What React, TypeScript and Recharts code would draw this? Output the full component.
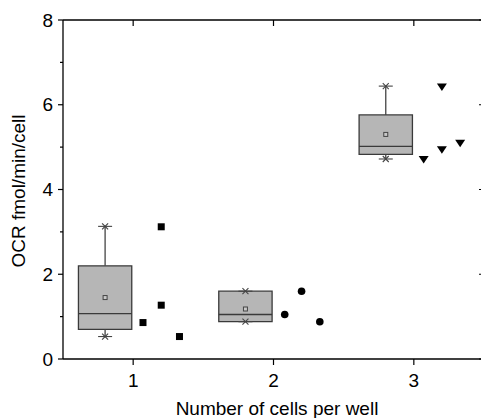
import { ScatterChart, Scatter, XAxis, YAxis, ReferenceArea, ReferenceLine } from 'recharts';

// box statistics, one entry per group
const groups = [1, 2, 3];
const boxCenters = [0.8, 1.8, 2.8];
const q1 = [0.7, 0.88, 4.83];
const medians = [1.07, 1.05, 5.02];
const q3 = [2.2, 1.6, 5.76];
const means = [1.45, 1.18, 5.3];
const mins = [0.53, 0.88, 4.72];
const maxs = [3.13, 1.6, 6.44];

// raw points plotted beside each box
const group1X = [1.07, 1.2, 1.2, 1.33];
const group1Y = [0.86, 3.12, 1.27, 0.53];
const group2X = [2.08, 2.2, 2.33];
const group2Y = [1.05, 1.6, 0.88];
const group3X = [3.07, 3.2, 3.2, 3.33];
const group3Y = [4.71, 6.42, 4.94, 5.09];

const X_DOMAIN: [number, number] = [0.5, 3.5];
const Y_DOMAIN: [number, number] = [0, 8];
const yTicks = [0, 1, 2, 3, 4, 5, 6, 7, 8];
const yMajor = [0, 2, 4, 6, 8];

const BOX_HALF = 0.19;
const FONT = '"Liberation Sans", Arial, sans-serif';

const toPoints = (xs: number[], ys: number[]) => xs.map((x, i) => ({ x, y: ys[i] }));

const meanData = toPoints(boxCenters, means);
const extremeData = [...toPoints(boxCenters, mins), ...toPoints(boxCenters, maxs)];
const frameAnchor = [{ x: X_DOMAIN[0], y: Y_DOMAIN[0] }, { x: X_DOMAIN[1], y: Y_DOMAIN[1] }];

const LeftTick = (props: any) => {
  const { x, y, payload } = props;
  const major = payload.value % 2 === 0;
  return (
    <g>
      <line x1={x - (major ? 5 : 3)} x2={x} y1={y} y2={y} stroke="#000" strokeWidth={1.2} />
      {major && (
        <text x={x - 10} y={y} textAnchor="end" dominantBaseline="central" fontSize={19} fontFamily={FONT} fill="#000">
          {payload.value}
        </text>
      )}
    </g>
  );
};

const BottomTick = (props: any) => {
  const { x, y, payload } = props;
  return (
    <g>
      <line x1={x} x2={x} y1={y} y2={y + 6} stroke="#000" strokeWidth={1.2} />
      <text x={x} y={y + 28} textAnchor="middle" fontSize={19} fontFamily={FONT} fill="#000">
        {payload.value}
      </text>
    </g>
  );
};

// inward ticks on the top and right frame axes
const TopTick = (props: any) => {
  const { x, y } = props;
  return <line x1={x} x2={x} y1={y} y2={y + 6} stroke="#000" strokeWidth={1.2} />;
};

const RightTick = (props: any) => {
  const { x, y } = props;
  return <line x1={x - 5} x2={x} y1={y} y2={y} stroke="#000" strokeWidth={1.2} />;
};

const NoMark = () => <g />;

const SquareDot = (props: any) => {
  const { cx, cy } = props;
  return <rect x={cx - 3.5} y={cy - 3.5} width={7} height={7} fill="#000" />;
};

const CircleDot = (props: any) => {
  const { cx, cy } = props;
  return <circle cx={cx} cy={cy} r={3.8} fill="#000" />;
};

const TriangleDot = (props: any) => {
  const { cx, cy } = props;
  return <polygon points={`${cx - 5},${cy - 3.5} ${cx + 5},${cy - 3.5} ${cx},${cy + 4}`} fill="#000" />;
};

const MeanMark = (props: any) => {
  const { cx, cy } = props;
  return <rect x={cx - 2} y={cy - 2} width={4} height={4} fill="#c8c8c8" stroke="#444" strokeWidth={1} />;
};

// whisker cap with an "x" marker
const ExtremeMark = (props: any) => {
  const { cx, cy } = props;
  return (
    <g stroke="#444" strokeWidth={1.1}>
      <line x1={cx - 7} x2={cx + 7} y1={cy} y2={cy} />
      <line x1={cx - 3} x2={cx + 3} y1={cy - 3} y2={cy + 3} />
      <line x1={cx - 3} x2={cx + 3} y1={cy + 3} y2={cy - 3} />
    </g>
  );
};

export default function App() {
  return (
    <div style={{ position: 'absolute', left: 0, top: 0, width: 481, height: 418, overflow: 'hidden', background: '#fff' }}>
      <ScatterChart width={490} height={418} margin={{ top: 0, right: 0, bottom: 0, left: 0 }}>
        <XAxis
          dataKey="x"
          type="number"
          domain={X_DOMAIN}
          ticks={groups}
          height={59}
          tickSize={0}
          tickMargin={0}
          tickLine={false}
          tick={BottomTick}
          axisLine={{ stroke: '#000', strokeWidth: 1.3 }}
          label={() => (
            <text x={277} y={415} textAnchor="middle" fontSize={19} fontFamily={FONT} fill="#000">
              Number of cells per well
            </text>
          )}
        />
        <XAxis
          xAxisId="top"
          orientation="top"
          dataKey="x"
          type="number"
          domain={X_DOMAIN}
          ticks={groups}
          height={20}
          tickSize={0}
          tickMargin={0}
          tickLine={false}
          tick={TopTick}
          axisLine={{ stroke: '#000', strokeWidth: 1.3 }}
        />
        <YAxis
          dataKey="y"
          type="number"
          domain={Y_DOMAIN}
          ticks={yTicks}
          interval={0}
          width={63}
          tickSize={0}
          tickMargin={0}
          tickLine={false}
          tick={LeftTick}
          axisLine={{ stroke: '#000', strokeWidth: 1.3 }}
          label={() => (
            <text
              x={18}
              y={191}
              transform="rotate(-90, 18, 191)"
              textAnchor="middle"
              dominantBaseline="central"
              fontSize={19}
              fontFamily={FONT}
              fill="#000"
            >
              OCR fmol/min/cell
            </text>
          )}
        />
        <YAxis
          yAxisId="right"
          orientation="right"
          dataKey="y"
          type="number"
          domain={Y_DOMAIN}
          ticks={yMajor}
          interval={0}
          width={6}
          tickSize={0}
          tickMargin={0}
          tickLine={false}
          tick={RightTick}
          axisLine={{ stroke: '#000', strokeWidth: 1.3 }}
        />

        {boxCenters.map((c, i) => (
          <ReferenceLine
            key={`wu-${i}`}
            segment={[{ x: c, y: q3[i] }, { x: c, y: maxs[i] }]}
            stroke="#444"
            strokeWidth={1.3}
          />
        ))}
        {boxCenters.map((c, i) => (
          <ReferenceLine
            key={`wl-${i}`}
            segment={[{ x: c, y: mins[i] }, { x: c, y: q1[i] }]}
            stroke="#444"
            strokeWidth={1.3}
          />
        ))}
        {boxCenters.map((c, i) => (
          <ReferenceArea
            key={`box-${i}`}
            x1={c - BOX_HALF}
            x2={c + BOX_HALF}
            y1={q1[i]}
            y2={q3[i]}
            fill="#b6b6b6"
            fillOpacity={1}
            stroke="#3a3a3a"
            strokeWidth={1.3}
          />
        ))}
        {boxCenters.map((c, i) => (
          <ReferenceLine
            key={`med-${i}`}
            segment={[{ x: c - BOX_HALF, y: medians[i] }, { x: c + BOX_HALF, y: medians[i] }]}
            stroke="#3a3a3a"
            strokeWidth={1.3}
          />
        ))}

        {/* invisible series bound to the frame axes */}
        <Scatter xAxisId="top" yAxisId="right" data={frameAnchor} shape={NoMark} isAnimationActive={false} />

        <Scatter data={extremeData} shape={ExtremeMark} isAnimationActive={false} />
        <Scatter data={meanData} shape={MeanMark} isAnimationActive={false} />
        <Scatter data={toPoints(group1X, group1Y)} shape={SquareDot} isAnimationActive={false} />
        <Scatter data={toPoints(group2X, group2Y)} shape={CircleDot} isAnimationActive={false} />
        <Scatter data={toPoints(group3X, group3Y)} shape={TriangleDot} isAnimationActive={false} />
      </ScatterChart>
    </div>
  );
}
